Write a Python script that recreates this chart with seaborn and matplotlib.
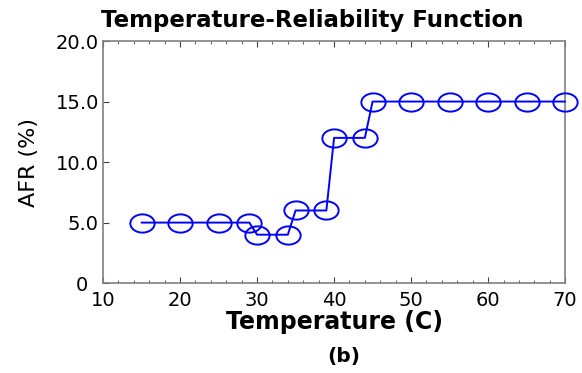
import numpy as np
import seaborn as sns
import matplotlib.pyplot as plt
from matplotlib.path import Path
from matplotlib.transforms import Affine2D
from matplotlib.ticker import MultipleLocator, FixedFormatter, FixedLocator

temperature = [15, 20, 25, 29, 30, 34, 35, 39, 40, 44, 45, 50, 55, 60, 65, 70]
afr = [5, 5, 5, 5, 4, 4, 6, 6, 12, 12, 15, 15, 15, 15, 15, 15]
y_ticks = [0, 5, 10, 15, 20]
y_ticklabels = ['0', '5.0', '10.0', '15.0', '20.0']
x_ticks = [10, 20, 30, 40, 50, 60, 70]

sns.set_style('white')
plt.rcParams['font.family'] = ['DejaVu Sans']
plt.rcParams['text.color'] = 'black'
plt.rcParams['xtick.color'] = 'black'
plt.rcParams['ytick.color'] = 'black'
plt.rcParams['axes.labelcolor'] = 'black'

# stretched circle marker (the original image is wider than tall)
ellipse = Path.unit_circle().transformed(Affine2D().scale(1.0, 0.75))

fig = plt.figure(figsize=(5.82, 3.73), dpi=100)
ax = fig.add_axes([0.177, 0.241, 0.794, 0.649])

sns.lineplot(x=temperature, y=afr, ax=ax, color='#0000ff', lw=1.4,
             marker=ellipse, markersize=17.5, markerfacecolor='none',
             markeredgecolor='#0000ff', markeredgewidth=1.4, clip_on=False,
             zorder=3)

ax.set_xlim(10, 70)
ax.set_ylim(0, 20)
ax.set_xticks(x_ticks)
ax.xaxis.set_minor_locator(MultipleLocator(2))
ax.yaxis.set_major_locator(FixedLocator(y_ticks))
ax.yaxis.set_major_formatter(FixedFormatter(y_ticklabels))

for s in ax.spines.values():
    s.set_color('#808080')
    s.set_linewidth(1.2)

ax.tick_params(axis='x', which='both', direction='in', top=True, bottom=True,
               color='#404040')
ax.tick_params(axis='x', which='major', length=4, labelsize=14, pad=6)
ax.tick_params(axis='x', which='minor', length=2.5)
ax.tick_params(axis='y', which='major', direction='in', length=4, left=True,
               labelsize=14, pad=3, color='#404040')

# the "0" label sits further left, clear of the "10"
ax.yaxis.get_major_ticks()[0].set_pad(10.5)

ax.set_title('Temperature-Reliability Function', fontsize=16.5, fontweight='bold',
             pad=10, x=0.452)
ax.set_xlabel('Temperature (C)', fontsize=17, fontweight='bold', labelpad=0)
ax.set_ylabel('AFR (%)', fontsize=16, labelpad=12)
fig.text(0.59, 0.045, '(b)', fontsize=14.5, fontweight='bold', ha='center', va='center')

plt.savefig('out.png', dpi=100)
